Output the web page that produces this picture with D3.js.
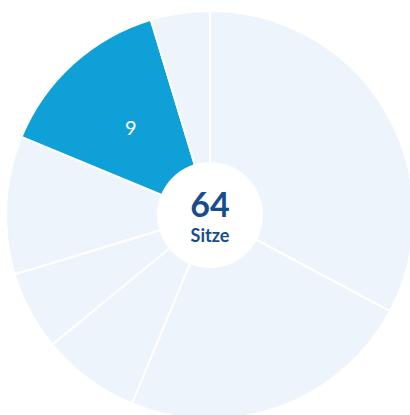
<!DOCTYPE html>
<html><head><meta charset="utf-8">
<script src="https://cdn.jsdelivr.net/npm/d3@7"></script>
<style>html,body{margin:0;padding:0;background:#fff;}svg{display:block;}</style>
</head><body>
<script>
const parties = ["A","B","C","D","E","F","G"];
const seats = [21, 15, 5, 4, 7, 9, 3];
const highlighted = ["F"];
const totalLabel = "64";
const unitLabel = "Sitze";

const W = 410, H = 415, cx = 210, cy = 215, R = 204, r0 = 53;
const svg = d3.select("body").append("svg").attr("width", W).attr("height", H);
const g = svg.append("g").attr("transform", `translate(${cx},${cy})`);

const data = parties.map((p, i) => ({party: p, value: seats[i]}));
const pie = d3.pie().value(d => d.value).sort(null);
const arc = d3.arc().innerRadius(0).outerRadius(R);
const arcs = pie(data);

g.selectAll("path").data(arcs).join("path")
  .attr("d", arc)
  .attr("fill", d => highlighted.includes(d.data.party) ? "#0fa0d8" : "#edf4fc")
  .attr("stroke", "#fff").attr("stroke-width", 2);

const labelArc = d3.arc().innerRadius(118).outerRadius(118);
g.selectAll("text.lab").data(arcs.filter(d => highlighted.includes(d.data.party))).join("text")
  .attr("class", "lab")
  .attr("transform", d => `translate(${labelArc.centroid(d)})`)
  .attr("text-anchor", "middle").attr("dy", "0.35em")
  .attr("fill", "#fff").attr("font-family", "Lato, sans-serif").attr("font-size", 20)
  .text(d => d.data.value);

g.append("circle").attr("r", r0).attr("fill", "#fff");
g.append("text").attr("text-anchor", "middle").attr("y", 2)
  .attr("fill", "#174d8c").attr("font-family", "Lato, sans-serif").attr("font-size", 34).attr("font-weight", 700)
  .text(totalLabel);
g.append("text").attr("text-anchor", "middle").attr("y", 27)
  .attr("fill", "#174d8c").attr("font-family", "Lato, sans-serif").attr("font-size", 18).attr("font-weight", 700)
  .text(unitLabel);
</script>
</body></html>
